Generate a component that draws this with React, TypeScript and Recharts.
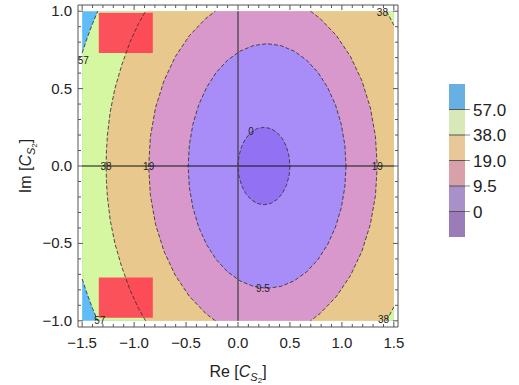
import React from 'react';
import {
  ComposedChart,
  Area,
  Line,
  Scatter,
  XAxis,
  YAxis,
  ReferenceLine,
} from 'recharts';

const FONT = '"Liberation Sans", Arial, sans-serif';

// contour bands, upper half only (the picture is symmetric about Im = 0)
const bgX = [-1.5, 1.5];
const bgY = [1, 1];

const greenX = [-1.5, -1.45, -1.4, -1.35, 1.5];
const greenY = [0.73, 0.83, 0.92, 1.0, 1.0];

const tanX = [-1.27, -1.266, -1.257, -1.23, -1.185, -1.12, -1.04, -0.957, -0.89, 1.43, 1.5];
const tanY = [0, 0.1, 0.2, 0.35, 0.5, 0.65, 0.8, 0.92, 1.0, 1.0, 0.91];

const pinkX = [-0.86, -0.843, -0.794, -0.713, -0.603, -0.467, -0.31, -0.218, 0.698, 0.79, 0.947, 1.083, 1.193, 1.274, 1.323, 1.34];
const pinkY = [0, 0.191, 0.376, 0.55, 0.707, 0.843, 0.953, 1.0, 1.0, 0.953, 0.843, 0.707, 0.55, 0.376, 0.191, 0];

const lavX = [-0.48, -0.468, -0.434, -0.378, -0.302, -0.209, -0.1, 0.02, 0.148, 0.28, 0.412, 0.54, 0.66, 0.769, 0.862, 0.938, 0.994, 1.028, 1.04];
const lavY = [0, 0.137, 0.27, 0.395, 0.508, 0.605, 0.684, 0.742, 0.778, 0.79, 0.778, 0.742, 0.684, 0.605, 0.508, 0.395, 0.27, 0.137, 0];

const innerX = [0, 0.009, 0.034, 0.073, 0.125, 0.185, 0.25, 0.315, 0.375, 0.427, 0.466, 0.491, 0.5];
const innerY = [0, 0.065, 0.125, 0.177, 0.217, 0.242, 0.25, 0.242, 0.217, 0.177, 0.125, 0.065, 0];

// the two red boxes
const redX = [-1.34, -0.82];
const redTop = [0.73, 0.99];
const redBottom = [-0.98, -0.72];

// contour labels
const labelText = ['57', '38', '19', '0', '19', '38', '38', '57', '9.5'];
const labelX = [-1.49, -1.27, -0.86, 0.125, 1.34, 1.39, 1.4, -1.33, 0.24];
const labelY = [0.68, 0, 0, 0.22, 0, 0.99, -0.99, -0.995, -0.79];

// legend
const legendLabels = ['57.0', '38.0', '19.0', '9.5', '0'];
const legendColors = ['#68b0e2', '#d8e8b8', '#e8c898', '#d8a0a8', '#a890c8', '#9c7cb8'];

const xMajor = [-1.5, -1, -0.5, 0, 0.5, 1, 1.5];
const yMajor = [-1, -0.5, 0, 0.5, 1];
const xTicks: number[] = [];
for (let i = -15; i <= 15; i++) xTicks.push(i / 10);
const yTicks: number[] = [];
for (let i = -10; i <= 10; i++) yTicks.push(i / 10);

const C = {
  blue: '#5fbcf6',
  green: '#d6f7a2',
  tan: '#e8c88c',
  pink: '#d898cc',
  lav: '#a88cf8',
  inner: '#9272f2',
  red: '#ff3a50',
  frame: '#555',
};

type Pt = { x: number; y: number };

const band = (xs: number[], ys: number[]) => xs.map((x, i) => ({ x, band: [-ys[i], ys[i]] }));
const box = (xs: number[], lohi: number[]) => xs.map((x) => ({ x, band: lohi }));

const isEdge = (y: number) => y >= 0.999;

// contour line pieces = band outline minus the y = ±1 border
function contourPaths(xs: number[], ys: number[]): Pt[][] {
  const runs: Pt[][] = [];
  let run: Pt[] = [];
  xs.forEach((x, i) => {
    const p = { x, y: ys[i] };
    if (run.length && isEdge(p.y) && isEdge(run[run.length - 1].y)) {
      if (run.length > 1) runs.push(run);
      run = [];
    }
    run.push(p);
  });
  if (run.length > 1) runs.push(run);

  const out: Pt[][] = [];
  runs.forEach((r) => {
    const low = r.map((p) => ({ x: p.x, y: -p.y }));
    if (r[0].y === 0) out.push([...low.slice(1).reverse(), ...r]);
    else if (r[r.length - 1].y === 0) out.push([...r, ...low.slice(0, -1).reverse()]);
    else {
      out.push(r);
      out.push(low);
    }
  });
  return out;
}

const contourLines = [
  ...contourPaths(greenX, greenY),
  ...contourPaths(tanX, tanY),
  ...contourPaths(pinkX, pinkY),
  ...contourPaths(lavX, lavY),
  ...contourPaths(innerX, innerY),
];

const labelData = labelText.map((t, i) => ({ x: labelX[i], y: labelY[i], t }));

const isMajor = (v: number) => Math.abs(v * 2 - Math.round(v * 2)) < 1e-6;
const fmt = (v: number) => (v < 0 ? '\u2212' : '') + Math.abs(v).toFixed(1);

const BottomTick = ({ x, y, payload }: any) => {
  const major = isMajor(payload.value);
  return (
    <g>
      <line x1={x} x2={x} y1={y} y2={y - (major ? 5 : 3)} stroke={C.frame} />
      {major && xMajor.some((m) => Math.abs(m - payload.value) < 1e-6) && (
        <text x={x} y={y + 21} textAnchor="middle" fontSize={15} fill="#222" fontFamily={FONT}>
          {fmt(payload.value)}
        </text>
      )}
    </g>
  );
};

const TopTick = ({ x, y, payload }: any) => (
  <line x1={x} x2={x} y1={y} y2={y + (isMajor(payload.value) ? 5 : 3)} stroke={C.frame} />
);

const LeftTick = ({ x, y, payload }: any) => {
  const major = isMajor(payload.value);
  return (
    <g>
      <line x1={x} x2={x + (major ? 5 : 3)} y1={y} y2={y} stroke={C.frame} />
      {major && yMajor.some((m) => Math.abs(m - payload.value) < 1e-6) && (
        <text x={x - 6} y={y + 5} textAnchor="end" fontSize={15} fill="#222" fontFamily={FONT}>
          {fmt(payload.value)}
        </text>
      )}
    </g>
  );
};

const RightTick = ({ x, y, payload }: any) => (
  <line x1={x} x2={x - (isMajor(payload.value) ? 5 : 3)} y1={y} y2={y} stroke={C.frame} />
);

const AxisTitle = ({ head, x, y, rotate }: { head: string; x: number; y: number; rotate?: boolean }) => (
  <text
    x={x}
    y={y}
    textAnchor="middle"
    fontSize={16}
    fill="#222"
    fontFamily={FONT}
    transform={rotate ? `rotate(-90, ${x}, ${y})` : undefined}
  >
    {head}
    <tspan fontStyle="italic">C</tspan>
    <tspan fontStyle="italic" fontSize={11} dy={4}>S</tspan>
    <tspan fontSize={8} dy={2}>2</tspan>
    <tspan fontSize={16} dy={-6}>]</tspan>
  </text>
);

const Legend = () => {
  const x = 449;
  const top = 84;
  const h = 25.5;
  return (
    <svg width={519} height={385} style={{ position: 'absolute', left: 0, top: 0 }}>
      {legendColors.map((c, i) => (
        <rect key={c} x={x} y={top + i * h} width={16} height={h} fill={c} />
      ))}
      {legendLabels.map((t, i) => {
        const yy = top + (i + 1) * h;
        return (
          <g key={t}>
            <line x1={x} x2={x + 16} y1={yy} y2={yy} stroke="#555" strokeWidth={1} />
            <line x1={x + 16} x2={x + 21} y1={yy} y2={yy} stroke="#888" />
            <text x={x + 24} y={yy + 6} fontSize={17} fill="#222" fontFamily={FONT}>
              {t}
            </text>
          </g>
        );
      })}
    </svg>
  );
};

export default function App() {
  return (
    <div style={{ position: 'absolute', left: 0, top: 0, width: 519, height: 385, fontFamily: FONT }}>
      <ComposedChart width={519} height={385} margin={{ top: 0, right: 0, bottom: 0, left: 0 }}>
        <XAxis
          xAxisId="b"
          dataKey="x"
          type="number"
          domain={[-1.54, 1.54]}
          allowDataOverflow
          ticks={xTicks}
          interval={0}
          height={58}
          tickSize={0}
          tickMargin={0}
          tickLine={false}
          axisLine={{ stroke: C.frame }}
          tick={(p: any) => <BottomTick {...p} />}
          label={{
            content: () => <AxisTitle head="Re [" x={238} y={377} />,
          }}
        />
        <XAxis
          xAxisId="t"
          orientation="top"
          dataKey="x"
          type="number"
          domain={[-1.54, 1.54]}
          allowDataOverflow
          ticks={xTicks}
          interval={0}
          height={5}
          tickSize={0}
          tickMargin={0}
          tickLine={false}
          axisLine={{ stroke: C.frame }}
          tick={(p: any) => <TopTick {...p} />}
        />
        <YAxis
          yAxisId="l"
          dataKey="y"
          type="number"
          domain={[-1.04, 1.04]}
          allowDataOverflow
          ticks={yTicks}
          interval={0}
          width={78}
          tickSize={0}
          tickMargin={0}
          tickLine={false}
          axisLine={{ stroke: C.frame }}
          tick={(p: any) => <LeftTick {...p} />}
          label={{
            content: () => <AxisTitle head="Im [" x={31} y={166} rotate />,
          }}
        />
        <YAxis
          yAxisId="r"
          orientation="right"
          dataKey="y"
          type="number"
          domain={[-1.04, 1.04]}
          allowDataOverflow
          ticks={yTicks}
          interval={0}
          width={121}
          tickSize={0}
          tickMargin={0}
          tickLine={false}
          axisLine={{ stroke: C.frame }}
          tick={(p: any) => <RightTick {...p} />}
        />

        <Area xAxisId="b" yAxisId="l" data={band(bgX, bgY)} dataKey="band" type="linear" fill={C.blue} fillOpacity={1} stroke="none" isAnimationActive={false} />
        <Area xAxisId="b" yAxisId="l" data={band(greenX, greenY)} dataKey="band" type="linear" fill={C.green} fillOpacity={1} stroke="none" isAnimationActive={false} />
        <Area xAxisId="b" yAxisId="l" data={band(tanX, tanY)} dataKey="band" type="linear" fill={C.tan} fillOpacity={1} stroke="none" isAnimationActive={false} />
        <Area xAxisId="b" yAxisId="l" data={band(pinkX, pinkY)} dataKey="band" type="linear" fill={C.pink} fillOpacity={1} stroke="none" isAnimationActive={false} />
        <Area xAxisId="b" yAxisId="l" data={band(lavX, lavY)} dataKey="band" type="linear" fill={C.lav} fillOpacity={1} stroke="none" isAnimationActive={false} />
        <Area xAxisId="b" yAxisId="l" data={band(innerX, innerY)} dataKey="band" type="linear" fill={C.inner} fillOpacity={1} stroke="none" isAnimationActive={false} />
        <Area xAxisId="b" yAxisId="l" data={box(redX, redTop)} dataKey="band" type="linear" fill={C.red} fillOpacity={0.88} stroke="none" isAnimationActive={false} />
        <Area xAxisId="b" yAxisId="l" data={box(redX, redBottom)} dataKey="band" type="linear" fill={C.red} fillOpacity={0.88} stroke="none" isAnimationActive={false} />

        {contourLines.map((pts, i) => (
          <Line
            key={`c${i}`}
            xAxisId="b"
            yAxisId="l"
            data={pts}
            dataKey="y"
            type="linear"
            stroke="#333"
            strokeOpacity={0.85}
            strokeWidth={1}
            strokeDasharray="4 2"
            dot={false}
            activeDot={false}
            isAnimationActive={false}
          />
        ))}

        <ReferenceLine
          xAxisId="b"
          yAxisId="l"
          segment={[{ x: -1.5, y: 0 }, { x: 1.5, y: 0 }]}
          stroke="#111"
          strokeWidth={1}
          zIndex={500}
        />
        <ReferenceLine
          xAxisId="b"
          yAxisId="l"
          segment={[{ x: 0, y: -1.0 }, { x: 0, y: 1.0 }]}
          stroke="#444"
          strokeWidth={1.3}
          zIndex={500}
        />

        <Scatter
          xAxisId="b"
          yAxisId="l"
          data={labelData}
          isAnimationActive={false}
          shape={(p: any) => (
            <text x={p.cx} y={p.cy} textAnchor="middle" dominantBaseline="central" fontSize={10} fill="#222" fontFamily={FONT}>
              {p.payload.t}
            </text>
          )}
        />
      </ComposedChart>
      <Legend />
    </div>
  );
}
